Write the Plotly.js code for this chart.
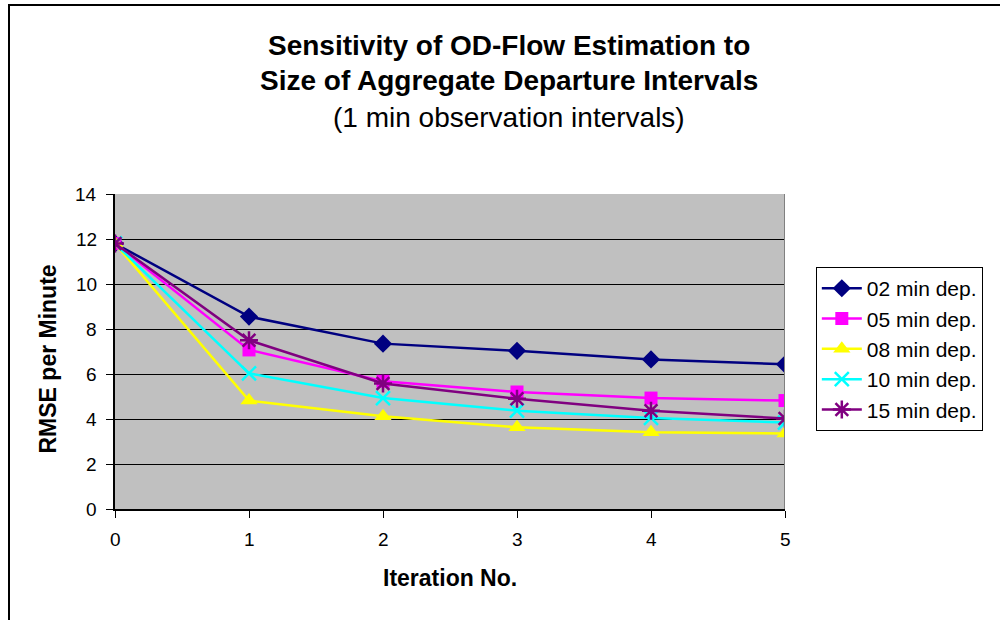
<!DOCTYPE html>
<html>
<head>
<meta charset="utf-8">
<script src="https://cdn.plot.ly/plotly-3.0.1.min.js"></script>
<style>
html,body{margin:0;padding:0;background:#fff;overflow:hidden;}
#frame{position:absolute;left:8px;top:4px;width:1000px;height:640px;border-left:2px solid #000;border-top:2px solid #000;box-sizing:border-box;pointer-events:none;z-index:5;}
#chart{position:absolute;left:0;top:0;width:1000px;height:620px;}
</style>
</head>
<body>
<div id="chart"></div>
<div id="frame"></div>
<script>
const iterations = [0, 1, 2, 3, 4, 5];
const seriesNames = ["02 min dep.", "05 min dep.", "08 min dep.", "10 min dep.", "15 min dep."];
const dep02 = [11.8, 8.55, 7.35, 7.03, 6.65, 6.43];
const dep05 = [11.8, 7.07, 5.68, 5.2, 4.93, 4.82];
const dep08 = [11.8, 4.82, 4.12, 3.63, 3.41, 3.36];
const dep10 = [11.8, 6.03, 4.93, 4.37, 4.05, 3.84];
const dep15 = [11.8, 7.5, 5.58, 4.9, 4.37, 4.02];
const yTicks = [0, 2, 4, 6, 8, 10, 12, 14];

const colors = ["#000080", "#ff00ff", "#ffff00", "#00ffff", "#800080"];
const symbols = ["diamond", "square", "triangle-up", "x-thin", "asterisk"];
const sizes = [14, 13, 15, 14, 15];
const allData = [dep02, dep05, dep08, dep10, dep15];

const traces = allData.map((vals, i) => ({
  x: iterations,
  y: vals,
  name: seriesNames[i],
  type: "scatter",
  mode: "lines+markers",
  line: {color: colors[i], width: 2.5},
  marker: {
    symbol: symbols[i],
    size: sizes[i],
    color: colors[i],
    line: {color: colors[i], width: (symbols[i] === "x-thin" || symbols[i] === "asterisk") ? 2.5 : 0}
  }
}));

const FONT = "Liberation Sans, Arial, sans-serif";

// tick labels placed through the axes' own scales
const xTickLabels = iterations.map(v => ({
  text: String(v), xref: "x", yref: "paper", x: v, y: 0, yshift: -30,
  showarrow: false, xanchor: "center", yanchor: "middle", font: {size: 19, family: FONT}
}));
const yTickLabels = yTicks.map(v => ({
  text: String(v), xref: "paper", yref: "y", x: 0, y: v, xshift: -16,
  showarrow: false, xanchor: "right", yanchor: "middle", font: {size: 19, family: FONT}
}));

const layout = {
  width: 1000,
  height: 620,
  paper_bgcolor: "#ffffff",
  plot_bgcolor: "#c0c0c0",
  margin: {l: 115, r: 215, t: 194, b: 111},
  font: {family: FONT, color: "#000", size: 19},
  showlegend: true,
  legend: {
    x: 1.046, y: 0.768, xanchor: "left", yanchor: "top",
    bgcolor: "#ffffff", bordercolor: "#000", borderwidth: 1,
    font: {size: 21, family: FONT},
    tracegroupgap: 0, itemwidth: 40
  },
  xaxis: {
    type: "linear",
    range: [0, 5],
    tickmode: "array",
    tickvals: iterations,
    showticklabels: false,
    showgrid: false,
    zeroline: false,
    showline: true, linecolor: "#000", linewidth: 2,
    ticks: "outside", ticklen: 7, tickcolor: "#000"
  },
  yaxis: {
    type: "linear",
    range: [0, 14],
    tickmode: "array",
    tickvals: yTicks,
    showticklabels: false,
    showgrid: true, gridcolor: "#000", gridwidth: 1,
    zeroline: false,
    showline: true, linecolor: "#000", linewidth: 2,
    ticks: "outside", ticklen: 7, tickcolor: "#000"
  },
  shapes: [{
    type: "line", xref: "x", yref: "paper", x0: 5, x1: 5, y0: 0, y1: 1,
    line: {color: "#808080", width: 2}
  }],
  annotations: [
    {text: "<b>Sensitivity of OD-Flow Estimation to</b>", xref: "paper", yref: "paper",
     x: 0.5875, y: 1, yshift: 149, showarrow: false, font: {size: 28}, xanchor: "center", yanchor: "middle"},
    {text: "<b>Size of Aggregate Departure Intervals</b>", xref: "paper", yref: "paper",
     x: 0.5875, y: 1, yshift: 114, showarrow: false, font: {size: 28}, xanchor: "center", yanchor: "middle"},
    {text: "(1 min observation intervals)", xref: "paper", yref: "paper",
     x: 0.5875, y: 1, yshift: 77, showarrow: false, font: {size: 28}, xanchor: "center", yanchor: "middle"},
    {text: "<b>Iteration No.</b>", xref: "paper", yref: "paper",
     x: 0.5, y: 0, yshift: -69, showarrow: false, font: {size: 23}, xanchor: "center", yanchor: "middle"},
    {text: "<b>RMSE per Minute</b>", xref: "paper", yref: "paper", textangle: -90,
     x: 0, xshift: -68, y: 0.5, yshift: -8, showarrow: false, font: {size: 23}, xanchor: "center", yanchor: "middle"}
  ].concat(xTickLabels, yTickLabels)
};

Plotly.newPlot("chart", traces, layout, {displayModeBar: false, staticPlot: true});
</script>
</body>
</html>
